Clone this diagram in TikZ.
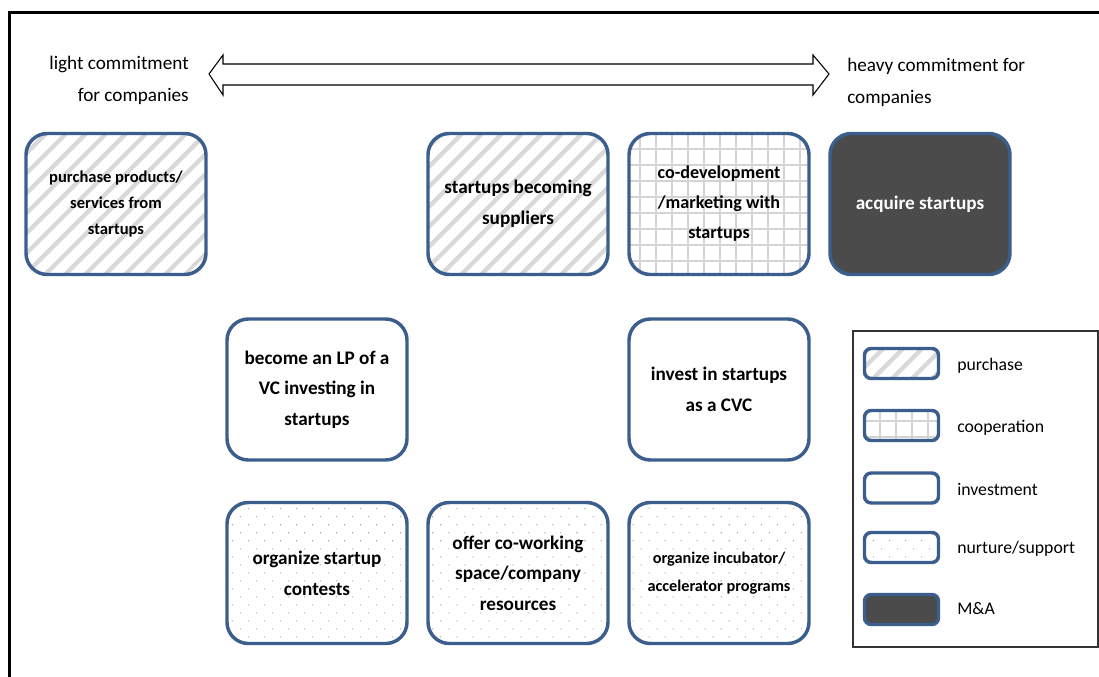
\documentclass[tikz,border=0pt]{standalone}
\usepackage{fontspec}
\setmainfont{Carlito}
\usetikzlibrary{patterns.meta}
\definecolor{bordc}{HTML}{3B5E8C}
\definecolor{stripec}{HTML}{D9D9D9}
\definecolor{gridc}{HTML}{D4D4D4}
\definecolor{dotc}{HTML}{A8A8A8}
\definecolor{darkf}{HTML}{4B4B4B}
\definecolor{legf}{HTML}{333333}
\tikzset{
  card/.style={draw=bordc, line width=2.6pt, rounded corners=16pt,
    minimum width=135pt, minimum height=105.75pt, align=center, inner sep=0pt,
    font=\bfseries\fontsize{14.4}{23}\selectfont},
  smalltxt/.style={font=\bfseries\fontsize{12.4}{19.5}\selectfont},
  purchfill/.style={pattern={Lines[angle=45,distance=10.5pt,line width=3.4pt]}, pattern color=stripec},
  coopfill/.style={pattern={Hatch[angle=0,distance=12pt,line width=0.9pt]}, pattern color=gridc},
  nurtfill/.style={pattern={Dots[angle=45,distance=8.5pt,radius=0.55pt]}, pattern color=dotc},
  mafill/.style={fill=darkf, text=white},
  legbox/.style={draw=bordc, line width=2.6pt, rounded corners=5pt,
    minimum width=55.5pt, minimum height=22.5pt, inner sep=0pt},
  leglabel/.style={anchor=west, font=\fontsize{13.3}{15}\selectfont, inner sep=0pt},
  toplabel/.style={font=\fontsize{14.4}{24}\selectfont, inner sep=0pt}
}
\begin{document}
\begin{tikzpicture}[x=0.75pt,y=-0.75pt]
\useasboundingbox (0,0) rectangle (1099,677);
% outer frame (partially visible)
\draw[line width=2.25pt] (1099,13) -- (9,13) -- (9,677);
% double arrow
\draw[line width=0.8pt] (209,74) -- (223,55) -- (223,64) -- (813,64) -- (813,55) -- (829,74)
  -- (813,95) -- (813,85) -- (223,85) -- (223,95) -- cycle;
\node[toplabel, align=right, anchor=east] (light) at (189,80) {light commitment\\for companies};
\node[toplabel, align=left, anchor=west] (heavy) at (847,82) {heavy commitment for\\companies};
% row 1
\node[card, purchfill, smalltxt] (p1) at (116,204) {purchase products/\\services from\\startups};
\node[card, purchfill] (p2) at (518,204) {startups becoming\\suppliers};
\node[card, coopfill, font=\bfseries\fontsize{13.6}{22.5}\selectfont] (c1) at (719,204) {co-development\\/marketing with\\startups};
\node[card, mafill] (m1) at (920,204) {acquire startups};
% row 2
\node[card] (i1) at (317,389.5) {become an LP of a\\VC investing in\\startups};
\node[card] (i2) at (719,389.5) {invest in startups\\as a CVC};
% row 3
\node[card, nurtfill] (n1) at (317,573) {organize startup\\contests};
\node[card, nurtfill] (n2) at (518,573) {offer co-working\\space/company\\resources};
\node[card, nurtfill, font=\bfseries\fontsize{12.2}{21}\selectfont] (n3) at (719,573) {organize incubator/\\accelerator programs};
% legend
\draw[draw=legf, line width=1.1pt] (853,331) rectangle (1098,647);
\node[legbox, purchfill] (lp) at (901.5,363.5) {};
\node[legbox, coopfill] (lc) at (901.5,425.5) {};
\node[legbox] (li) at (901.5,488) {};
\node[legbox, nurtfill] (ln) at (901.5,547.5) {};
\node[legbox, mafill] (lm) at (901.5,609.5) {};
\node[leglabel] (tp) at (957,366) {purchase};
\node[leglabel] (tc) at (957,428) {cooperation};
\node[leglabel] (ti) at (957,489) {investment};
\node[leglabel] (tn) at (957,549) {nurture/support};
\node[leglabel] (tm) at (957,609) {M\&A};
\end{tikzpicture}
\end{document}
